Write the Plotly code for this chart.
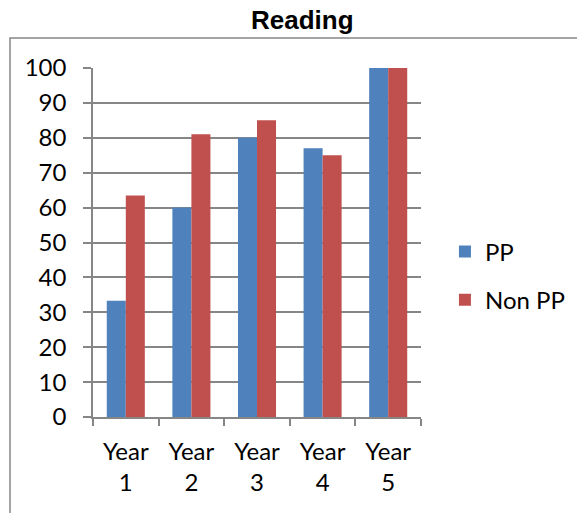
import plotly.graph_objects as go

categories = ["Year<br>1", "Year<br>2", "Year<br>3", "Year<br>4", "Year<br>5"]
pp_values = [33.3, 60, 80, 77, 100]
non_pp_values = [63.5, 81, 85, 75, 100]
y_ticks = [0, 10, 20, 30, 40, 50, 60, 70, 80, 90, 100]
chart_title = "Reading"

GRID = "#868686"
FONT = "Lato"

fig = go.Figure()
fig.add_trace(go.Bar(x=categories, y=pp_values, name="PP", marker_color="#4F81BD",
                     marker_line_width=0, legendgroup="a"))
fig.add_trace(go.Bar(x=categories, y=non_pp_values, name="Non PP", marker_color="#C0504D",
                     marker_line_width=0, legendgroup="b"))

fig.update_layout(
    width=585, height=513,
    margin=dict(l=85, r=172, t=60, b=104, autoexpand=False),
    paper_bgcolor="white", plot_bgcolor="white",
    barmode="group", bargap=0.42, bargroupgap=0,
    font=dict(family=FONT, size=24, color="black"),
    legend=dict(x=1.073, y=0.404, xanchor="left", yanchor="middle",
                font=dict(family=FONT, size=24), tracegroupgap=14,
                bgcolor="rgba(0,0,0,0)"),
    showlegend=True,
)
fig.add_annotation(text="<b>" + chart_title + "</b>", xref="paper", yref="paper",
                   x=(294 - 85) / 328, y=(349 + 60 - 12) / 349, xanchor="center",
                   yanchor="middle", showarrow=False,
                   font=dict(family="Liberation Sans", size=26, color="black"))
fig.update_xaxes(showgrid=False, showline=True, linecolor=GRID, linewidth=1.5,
                 ticks="outside", tickson="boundaries", ticklen=7, tickcolor=GRID,
                 tickwidth=1.5, ticklabelstandoff=12, tickfont=dict(family=FONT, size=24))
fig.update_yaxes(range=[0, 100], tickvals=y_ticks, showgrid=True, gridcolor=GRID,
                 gridwidth=1.5, showline=True, linecolor=GRID, linewidth=1.5,
                 ticks="outside", ticklen=8, tickcolor=GRID, tickwidth=1.5,
                 ticklabelstandoff=12, zeroline=False, tickfont=dict(family=FONT, size=24))

fig.add_shape(type="rect", xref="paper", yref="paper",
              x0=(10 - 93) / 328, x1=(600 - 93) / 328,
              y0=(417 - 530) / 349, y1=(417 - 38) / 349,
              line=dict(color=GRID, width=1.5), fillcolor="rgba(0,0,0,0)", layer="below")

fig.write_html("out.html")
